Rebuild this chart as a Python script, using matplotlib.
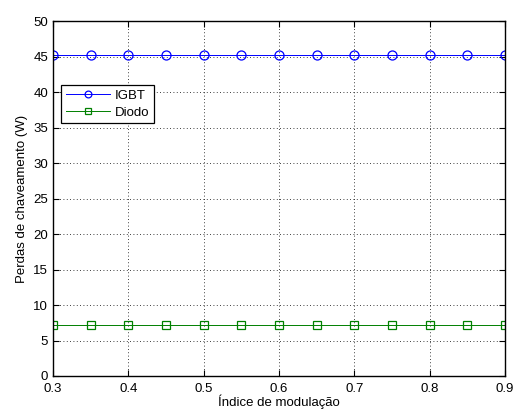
import matplotlib
matplotlib.use("Agg")
import matplotlib.pyplot as plt
import numpy as np

m = [0.3, 0.35, 0.4, 0.45, 0.5, 0.55, 0.6, 0.65, 0.7, 0.75, 0.8, 0.85, 0.9]
igbt = [45.2] * 13
diodo = [7.25] * 13

plt.rcParams['font.family'] = ['Liberation Sans', 'DejaVu Sans']
fig = plt.figure(figsize=(5.16, 4.12), dpi=100)
ax = fig.add_axes([53/516, 1-376/412, (505-53)/516, (376-21)/412])
ax.plot(m, igbt, '-o', color='#0000ff', mfc='none', ms=6.5, lw=0.7, mew=0.9, label='IGBT')
ax.plot(m, diodo, '-s', color='#008000', mfc='none', ms=5.5, lw=0.7, mew=0.9, label='Diodo')
ax.set_xlim(0.3, 0.9)
ax.set_ylim(0, 50)
ax.set_xticks(np.arange(0.3, 0.91, 0.1))
ax.set_xticklabels(['0.3', '0.4', '0.5', '0.6', '0.7', '0.8', '0.9'])
ax.set_yticks(range(0, 51, 5))
ax.grid(True, linestyle=(0, (1, 3)), color='black', lw=0.6)
ax.tick_params(direction='in', labelsize=9.5, top=True, right=True, length=4)
ax.tick_params(axis='x', pad=5)
for s in ax.spines.values():
    s.set_linewidth(1.0)
ax.set_xlabel('Índice de modulação', fontsize=9.5, labelpad=0)
ax.set_ylabel('Perdas de chaveamento (W)', fontsize=9.5, labelpad=4)
leg = ax.legend(loc='upper left', bbox_to_anchor=(0.0177, 0.82), fancybox=False,
                edgecolor='black', framealpha=1, fontsize=9.5, handlelength=3.4,
                borderpad=0.35, labelspacing=0.35, markerscale=0.75,
                handletextpad=0.3, borderaxespad=0)
leg.get_frame().set_linewidth(0.9)
fig.savefig('out.png', dpi=100)
